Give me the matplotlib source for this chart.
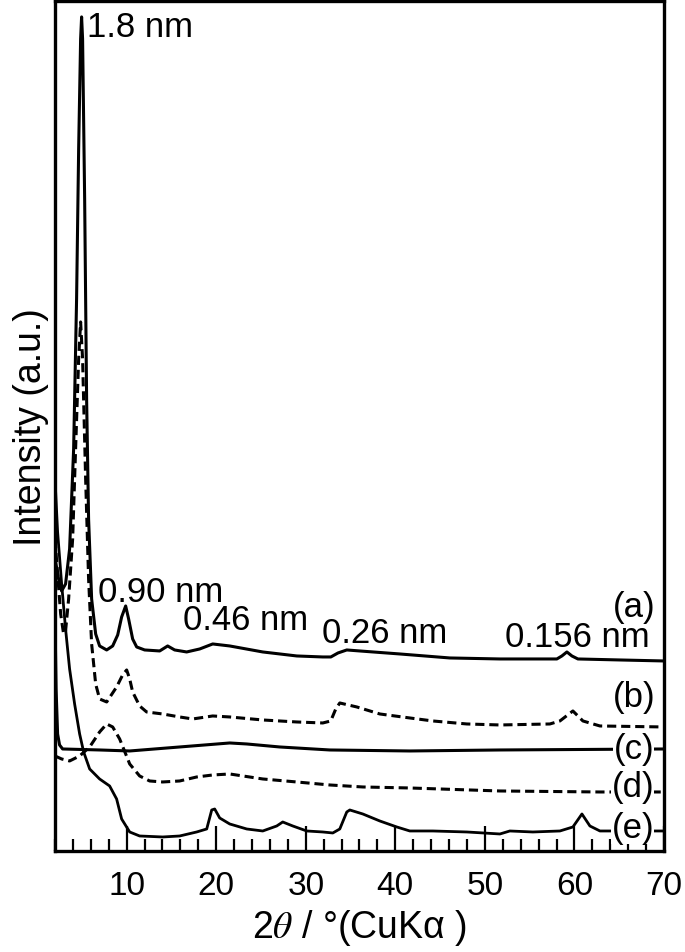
import numpy as np
import matplotlib.pyplot as plt
from matplotlib.ticker import MultipleLocator

plt.rcParams['font.family'] = ['Liberation Sans', 'DejaVu Sans']
plt.rcParams['mathtext.fontset'] = 'stix'

# XRD patterns, 2theta (deg) and intensity (a.u.)
tt_a = [2.01, 2.40, 2.74, 3.18, 3.63, 4.08, 4.41, 4.64, 4.86, 4.97, 5.08, 5.31, 5.53, 5.75,
        6.09, 6.54, 6.98, 7.77, 8.44, 9.0, 9.44, 9.89, 10.22, 10.67, 11.12, 12.01, 13.69,
        14.58, 15.36, 16.70, 18.16, 19.61, 21.51, 25.20, 29.0, 31.9, 32.8, 33.6, 34.58,
        36.03, 40.5, 46.09, 51.68, 58.04, 58.60, 59.16, 59.72, 60.39, 65.08, 70.0]
I_a = [292, 272, 260, 267, 302, 402, 552, 702, 812, 834, 812, 652, 452, 332,
       252, 217, 205, 201, 205, 216, 234, 245, 232, 212, 204, 201, 200,
       205, 201, 199, 202, 207, 205, 199, 195, 194, 194, 198, 201,
       200, 197, 193, 192, 192, 195, 199, 195, 192, 191, 190]

tt_b = [2.0, 2.29, 2.63, 2.96, 3.18, 3.52, 3.97, 4.30, 4.64, 4.86, 5.08, 5.42, 5.75, 6.09,
        6.54, 6.98, 7.77, 8.88, 9.55, 10.0, 10.34, 10.67, 11.45, 12.23, 14.02, 15.92, 17.37,
        19.61, 21.51, 25.20, 28.99, 31.90, 32.79, 33.35, 33.80, 35.70, 38.27, 41.62, 44.19,
        47.99, 51.68, 57.26, 58.38, 59.83, 60.95, 62.85, 70.0]
I_b = [312, 277, 237, 217, 220, 252, 312, 402, 492, 529, 492, 372, 272, 207,
       167, 152, 149, 164, 176, 181, 172, 159, 145, 139, 137, 134, 132,
       135, 134, 131, 129, 128, 130, 142, 148, 144, 137, 133, 130,
       127, 126, 127, 130, 140, 130, 125, 124]

tt_c = [2.0, 2.12, 2.29, 2.51, 2.85, 6.98, 10.34, 15.92, 21.51, 23.41, 27.09, 32.68, 41.62,
        51.68, 70.0]
I_c = [232, 162, 117, 106, 102, 101, 100, 104, 108, 107, 104, 101, 100, 101, 102]

tt_d = [2.0, 2.74, 3.63, 4.75, 5.87, 6.98, 7.77, 8.44, 9.22, 10.34, 11.45, 12.57, 14.02,
        15.92, 17.82, 19.61, 21.51, 25.20, 28.99, 32.68, 36.37, 41.62, 51.68, 62.85, 70.0]
I_d = [95, 92, 90, 95, 104, 119, 127, 124, 112, 87, 75, 70, 69,
       70, 74, 76, 77, 72, 69, 66, 64, 63, 60, 59, 59]

tt_e = [2.0, 2.29, 2.74, 3.18, 3.63, 4.19, 4.75, 5.20, 5.87, 6.98, 8.10, 8.88, 9.44, 10.34,
        11.45, 14.02, 15.92, 17.82, 18.94, 19.50, 19.83, 20.39, 21.51, 23.41, 25.20, 26.76,
        27.43, 28.55, 30.11, 31.90, 33.02, 33.80, 34.58, 34.92, 36.37, 38.27, 40.17, 41.62,
        44.19, 47.99, 51.68, 52.79, 55.36, 58.38, 59.83, 60.84, 61.73, 62.85, 70.0]
I_e = [372, 319, 267, 222, 182, 147, 117, 99, 82, 72, 65, 52, 32, 19,
       15, 14, 15, 19, 22, 41, 42, 33, 27, 22, 20, 25,
       29, 25, 20, 19, 18, 22, 39, 41, 37, 30, 24, 20,
       20, 19, 17, 20, 19, 20, 24, 37, 25, 20, 20]

fig = plt.figure(figsize=(6.85, 9.53), dpi=100)
ax = fig.add_axes([0.0803, 0.106, 0.889, 0.892])

dash = (0, (3, 1.6))
ax.plot(tt_a, I_a, color='black', lw=2.2)
ax.plot(tt_b, I_b, color='black', lw=2.2, linestyle=dash)
ax.plot(tt_c, I_c, color='black', lw=2.2)
ax.plot(tt_d, I_d, color='black', lw=2.2, linestyle=dash)
ax.plot(tt_e, I_e, color='black', lw=2.0)

ax.set_xlim(2, 70)
ax.set_ylim(0, 850)

fs = 25
ax.text(5.53, 815, '1.8 nm', fontsize=fs, va='baseline')
ax.text(6.76, 250, '0.90 nm', fontsize=fs, va='baseline')
ax.text(16.26, 222, '0.46 nm', fontsize=fs, va='baseline')
ax.text(31.79, 209, '0.26 nm', fontsize=fs, va='baseline')
ax.text(52.23, 205, '0.156 nm', fontsize=fs, va='baseline')

box = dict(facecolor='white', edgecolor='none', pad=0)
ax.text(69.0, 244, '(a)', fontsize=fs, ha='right', va='center')
ax.text(69.0, 154, '(b)', fontsize=fs, ha='right', va='center')
ax.text(68.9, 102, '(c)', fontsize=fs, ha='right', va='center', bbox=box, zorder=5)
ax.text(68.9, 64, '(d)', fontsize=fs, ha='right', va='center', bbox=box, zorder=5)
ax.text(68.9, 23, '(e)', fontsize=fs, ha='right', va='center', bbox=box, zorder=5)

ax.xaxis.set_major_locator(MultipleLocator(10))
ax.xaxis.set_minor_locator(MultipleLocator(2))
ax.set_xticks([10, 20, 30, 40, 50, 60, 70])
ax.tick_params(axis='x', which='major', direction='in', length=18, width=1.6,
               labelsize=24, pad=14)
ax.tick_params(axis='x', which='minor', direction='in', length=9, width=1.6)
ax.set_yticks([])
for s in ax.spines.values():
    s.set_linewidth(2.4)

ax.set_xlabel(r'2$\theta$ / °(CuKα )', fontsize=27, labelpad=4)
ax.set_ylabel('Intensity (a.u.)', fontsize=27, labelpad=4)

fig.savefig('out.png', dpi=100)
